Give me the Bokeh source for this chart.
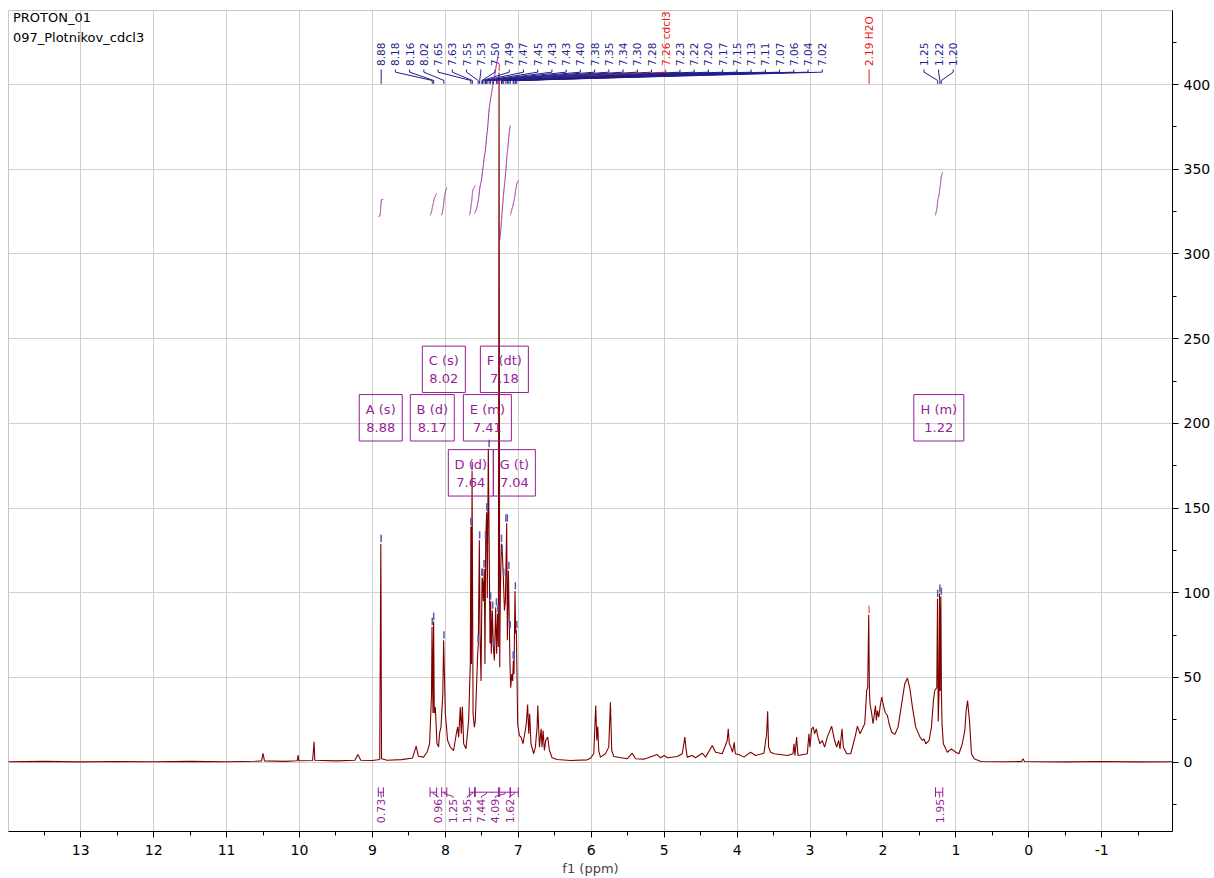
import numpy as np
from bokeh.plotting import figure
from bokeh.models import Range1d, SingleIntervalTicker, CustomJSTickFormatter
from bokeh.core.properties import value
from bokeh.embed import file_html
from bokeh.resources import INLINE

# ---------------- data ----------------
title_lines = ["PROTON_01", "097_Plotnikov_cdcl3"]

shift_ppm = [
    14.00, 13.50, 13.00, 12.50, 12.00, 11.50, 11.00, 10.60, 10.52, 10.50, 10.48, 10.20,
    10.03, 10.02, 10.01, 9.82, 9.80, 9.79, 9.50, 9.24, 9.20, 9.16, 9.00, 8.90, 8.885,
    8.875, 8.80, 8.60, 8.45, 8.40, 8.37, 8.30, 8.25, 8.216, 8.190, 8.183, 8.170, 8.161,
    8.152, 8.138, 8.115, 8.093, 8.080, 8.060, 8.035, 8.024, 8.000, 7.969, 7.932, 7.887,
    7.850, 7.832, 7.818, 7.795, 7.781, 7.767, 7.749, 7.717, 7.681, 7.658, 7.650, 7.642,
    7.634, 7.620, 7.603, 7.589, 7.557, 7.548, 7.534, 7.525, 7.511, 7.497, 7.489, 7.480,
    7.466, 7.457, 7.447, 7.434, 7.425, 7.411, 7.397, 7.388, 7.379, 7.370, 7.356, 7.342,
    7.328, 7.310, 7.297, 7.283, 7.273, 7.264, 7.255, 7.246, 7.232, 7.218, 7.205, 7.190,
    7.177, 7.159, 7.150, 7.136, 7.122, 7.113, 7.104, 7.090, 7.077, 7.068, 7.059, 7.045,
    7.036, 7.027, 7.018, 7.009, 6.985, 6.962, 6.935, 6.912, 6.890, 6.872, 6.857, 6.844,
    6.826, 6.789, 6.766, 6.742, 6.733, 6.710, 6.687, 6.674, 6.660, 6.642, 6.624, 6.597,
    6.573, 6.537, 6.468, 6.285, 6.056, 6.010, 5.965, 5.938, 5.924, 5.910, 5.897, 5.874,
    5.805, 5.760, 5.737, 5.719, 5.691, 5.507, 5.438, 5.393, 5.279, 5.095, 5.050, 5.000,
    4.958, 4.820, 4.752, 4.716, 4.703, 4.684, 4.615, 4.570, 4.478, 4.432, 4.340, 4.295,
    4.203, 4.135, 4.121, 4.107, 4.085, 4.062, 4.039, 4.025, 3.975, 3.907, 3.815, 3.746,
    3.632, 3.595, 3.581, 3.568, 3.540, 3.490, 3.310, 3.234, 3.220, 3.207, 3.184, 3.165,
    3.037, 3.015, 3.001, 2.978, 2.955, 2.937, 2.914, 2.891, 2.864, 2.832, 2.800, 2.763,
    2.704, 2.663, 2.635, 2.607, 2.589, 2.562, 2.543, 2.497, 2.442, 2.383, 2.350, 2.314,
    2.282, 2.250, 2.223, 2.209, 2.195, 2.186, 2.177, 2.154, 2.136, 2.117, 2.103, 2.090,
    2.076, 2.058, 2.040, 2.017, 1.998, 1.971, 1.939, 1.916, 1.880, 1.838, 1.793, 1.747,
    1.701, 1.665, 1.633, 1.596, 1.551, 1.492, 1.459, 1.436, 1.413, 1.368, 1.335, 1.308,
    1.290, 1.262, 1.252, 1.242, 1.232, 1.224, 1.216, 1.206, 1.198, 1.190, 1.172, 1.117,
    1.062, 1.003, 0.958, 0.912, 0.878, 0.860, 0.840, 0.826, 0.814, 0.786, 0.750, 0.660,
    0.300, 0.100, 0.080, 0.060, -0.500, -1.000, -1.500, -1.970,
]
intensity = [
    0.3, 0.5, 0.2, 0.4, 0.3, 0.5, 0.3, 0.6, 0.8, 5.2, 0.8, 0.5,
    0.9, 4.2, 0.9, 1.0, 12.0, 1.2, 0.8, 1.2, 4.6, 1.2, 1.0, 1.6, 129.0,
    2.0, 1.2, 1.5, 2.5, 9.5, 3.5, 3.0, 6.0, 11.0, 40.0, 80.0, 29.0, 83.0,
    29.0, 32.5, 11.0, 9.0, 17.0, 20.7, 40.0, 72.0, 28.6, 12.8, 8.9, 6.9,
    16.8, 20.7, 14.8, 32.5, 16.8, 32.9, 10.9, 7.9, 24.6, 58.0, 139.0, 58.0,
    172.0, 28.6, 20.7, 24.6, 64.0, 70.0, 131.0, 76.0, 48.0, 109.0, 107.0, 95.0,
    114.0, 58.0, 131.0, 147.6, 97.0, 185.0, 117.0, 70.0, 95.0, 64.0, 89.6, 68.0,
    60.0, 91.5, 64.0, 87.6, 68.0, 407.0, 56.0, 101.0, 129.0, 123.0, 109.0, 89.6,
    95.0, 141.0, 72.0, 113.0, 78.0, 56.0, 44.0, 52.0, 48.0, 60.0, 52.0, 101.0,
    76.0, 78.0, 52.0, 22.7, 15.7, 14.8, 10.9, 16.8, 22.7, 34.0, 16.8, 28.6,
    10.9, 5.0, 8.9, 20.7, 33.5, 8.9, 19.7, 8.9, 18.7, 6.9, 12.8, 14.8,
    6.9, 2.6, 1.6, 1.0, 1.4, 2.4, 5.0, 33.5, 12.8, 21.0, 6.9, 3.0,
    5.0, 8.9, 35.4, 6.9, 3.4, 2.0, 5.3, 2.0, 1.8, 4.5, 2.6, 4.0,
    2.6, 3.4, 5.0, 14.8, 8.9, 3.0, 4.0, 2.6, 5.3, 3.0, 9.9, 5.9,
    5.0, 12.8, 19.7, 10.9, 8.9, 5.9, 11.8, 5.0, 4.5, 3.0, 5.9, 4.0,
    5.3, 16.8, 30.0, 8.9, 5.9, 5.0, 4.0, 5.0, 10.9, 4.0, 14.8, 4.0,
    5.0, 16.8, 8.9, 19.7, 20.7, 16.8, 19.7, 14.8, 10.9, 12.8, 8.9, 14.8,
    21.3, 12.8, 8.9, 12.8, 7.9, 19.7, 8.9, 5.0, 5.0, 14.8, 21.3, 16.8,
    19.7, 22.7, 42.3, 44.0, 87.0, 42.3, 34.5, 28.6, 22.7, 28.6, 33.5, 24.6,
    30.5, 26.6, 32.5, 38.4, 34.5, 29.5, 27.6, 22.7, 17.7, 16.4, 20.7, 33.5,
    46.3, 49.6, 44.0, 32.5, 20.7, 14.8, 12.8, 13.8, 10.9, 12.8, 20.7, 36.4,
    42.3, 44.0, 96.5, 24.0, 40.0, 99.6, 42.0, 97.8, 40.0, 22.7, 10.9, 5.9,
    7.9, 5.9, 5.0, 10.9, 18.7, 30.0, 36.4, 30.0, 24.6, 5.0, 2.0, 0.4,
    0.3, 0.4, 2.0, 0.4, 0.2, 0.4, 0.2, 0.3,
]

peak_shifts = [8.88, 8.18, 8.16, 8.02, 7.65, 7.63, 7.55, 7.53, 7.50, 7.49, 7.47, 7.45,
               7.43, 7.43, 7.40, 7.38, 7.35, 7.34, 7.30, 7.28, 7.26, 7.23, 7.22, 7.20,
               7.17, 7.15, 7.13, 7.11, 7.07, 7.06, 7.04, 7.02, 2.19, 1.25, 1.22, 1.20]
peak_notes = [""] * 20 + ["cdcl3"] + [""] * 11 + ["H2O", "", "", ""]

multiplet_letters = ["A", "B", "C", "D", "E", "F", "G", "H"]
multiplet_types = ["s", "d", "s", "d", "m", "dt", "t", "m"]
multiplet_shifts = [8.88, 8.17, 8.02, 7.64, 7.41, 7.18, 7.04, 1.22]

integral_from = [8.92, 8.21, 8.05, 7.67, 7.60, 7.255, 7.11, 1.28]
integral_to = [8.85, 8.12, 7.98, 7.59, 7.272, 7.11, 7.00, 1.18]
integral_values = [0.73, 0.96, 1.25, 1.95, 7.44, 4.09, 1.62, 1.95]

# ---------------- layout / style ----------------
FONT = value("DejaVu Sans")
SPEC_C = "#800000"
NAVY = "#1f1f8c"
RED = "#f01515"
PURPLE = "#961e96"
GRID_C = "#cfcfcf"

# label fan layout: (first index, last index+1, first label ppm, step)
label_groups = [(0, 32, 8.88, 0.1951), (32, 33, 2.19, 0.0), (33, 36, 1.437, 0.2)]
# multiplet boxes: centre ppm, centre y, width (px)
box_x = [8.886, 8.179, 8.021, 7.651, 7.424, 7.191, 7.054, 1.234]
box_y = [203.3, 203.3, 231.9, 170.8, 203.3, 231.9, 170.8, 203.3]
box_w = [43, 44, 43, 45, 48, 48, 42, 50]
BOX_H = 27.4
# integral curves: start / end height
int_y0 = [322.2, 322.8, 322.8, 322.8, 323.9, 308.0, 322.8, 322.8]
int_y1 = [332.3, 335.7, 339.3, 340.4, 419.0, 375.8, 343.4, 348.1]
int_text_x = [8.879, 8.101, 7.895, 7.699, 7.507, 7.315, 7.119, 1.221]

p = figure(frame_width=1164, frame_height=821,
           x_range=Range1d(13.99, -1.97), y_range=Range1d(-40.9, 443.7),
           y_axis_location="right", output_backend="svg", toolbar_location=None,
           min_border_left=8, min_border_top=10, min_border_right=0, min_border_bottom=0,
           background_fill_color="white", border_fill_color="white")
p.outline_line_color = "#c8c8c8"

p.xaxis.ticker = SingleIntervalTicker(interval=1, num_minor_ticks=2)
p.yaxis.ticker = SingleIntervalTicker(interval=50, num_minor_ticks=2)
p.xaxis.formatter = CustomJSTickFormatter(code="return String(Math.round(tick));")
p.xgrid.ticker = SingleIntervalTicker(interval=1)
p.ygrid.ticker = SingleIntervalTicker(interval=50)
for g in (p.xgrid, p.ygrid):
    g.grid_line_color = GRID_C
    g.grid_line_width = 1

for ax in (p.xaxis, p.yaxis):
    ax.axis_line_color = "black"
    ax.major_tick_line_color = "black"
    ax.minor_tick_line_color = "black"
    ax.major_tick_in = 0
    ax.major_tick_out = 6
    ax.minor_tick_in = 0
    ax.minor_tick_out = 4
    ax.major_label_text_font = "DejaVu Sans"
    ax.major_label_text_font_size = "14px"
    ax.major_label_text_color = "black"
p.xaxis.major_label_standoff = 7
p.yaxis.major_label_standoff = 5
p.xaxis.axis_label = "f1 (ppm)"
p.xaxis.axis_label_text_font = "DejaVu Sans"
p.xaxis.axis_label_text_font_style = "normal"
p.xaxis.axis_label_text_font_size = "13px"
p.xaxis.axis_label_standoff = 3

x = np.array(shift_ppm, dtype=float)
yv = np.array(intensity, dtype=float)

# spectrum
p.line(x, yv, line_color=SPEC_C, line_width=1.1)

# titles
p.text(x=[13.93, 13.93], y=[439.7, 427.9], text=title_lines, text_font=FONT,
       text_font_size=value("13px"), text_color="black",
       text_align="left", text_baseline="middle")

# peak labels, connectors and markers
ps = np.array(peak_shifts)
label_x = np.zeros(len(ps))
for i0, i1, start, step in label_groups:
    for k, i in enumerate(range(i0, i1)):
        label_x[i] = start - k * step
texts = [f"{s:.2f}" + (f" {n}" if n else "") for s, n in zip(peak_shifts, peak_notes)]
colors = [RED if n else NAVY for n in peak_notes]
p.text(x=list(label_x), y=[411.0] * len(ps), text=texts, angle=np.pi / 2,
       text_font=FONT, text_font_size=value("10.5px"), text_color=colors,
       text_align="left", text_baseline="middle")
xs, ys = [], []
for lx, s in zip(label_x, ps):
    xs.append([lx, lx, s, s])
    ys.append([408.9, 407.3, 402.4, 400.4])
p.multi_line(xs, ys, line_color=colors, line_width=1)

mk_h = []
for s in ps:
    m = np.abs(x - s) <= 0.012
    mk_h.append(yv[m].max() if m.any() else float(np.interp(s, x[::-1], yv[::-1])))
mk_h = np.array(mk_h)
mk_col = ["#ff6a6a" if n else "#5a5ab0" for n in peak_notes]
p.segment(x0=ps, y0=mk_h + 1.0, x1=ps, y1=mk_h + 5.3, line_color=mk_col, line_width=1.5)

# integrals
xa, ya = x[::-1], yv[::-1]
for a, b, y0, y1 in zip(integral_from, integral_to, int_y0, int_y1):
    grid = np.linspace(a, b, 160)
    vals = np.interp(grid, xa, ya)
    cum = np.cumsum(vals)
    frac = (cum - cum[0]) / (cum[-1] - cum[0])
    p.line(grid, y0 + (y1 - y0) * frac, line_color=PURPLE, line_width=1)

ia = np.array(integral_from)
ib = np.array(integral_to)
ic = (ia + ib) / 2
p.segment(x0=ia, y0=[-17.7] * len(ia), x1=ib, y1=[-17.7] * len(ia), line_color=PURPLE)
p.segment(x0=ia, y0=[-14.8] * len(ia), x1=ia, y1=[-20.5] * len(ia), line_color=PURPLE)
p.segment(x0=ib, y0=[-14.8] * len(ia), x1=ib, y1=[-20.5] * len(ia), line_color=PURPLE)
cx = [[c, c, t, t] for c, t in zip(ic, int_text_x)]
cy = [[-17.7, -18.6, -20.2, -21.0] for _ in ic]
p.multi_line(cx, cy, line_color=PURPLE, line_width=1)
p.text(x=int_text_x, y=[-21.6] * len(ic), text=[f"{v:.2f}" for v in integral_values],
       angle=np.pi / 2, text_font=FONT, text_font_size=value("11px"),
       text_color=PURPLE, text_align="right", text_baseline="middle")

# multiplet boxes
p.rect(x=box_x, y=box_y, width=box_w, height=BOX_H, width_units="screen",
       fill_alpha=0, line_color=PURPLE, line_width=1)
line1 = [f"{l} ({t})" for l, t in zip(multiplet_letters, multiplet_types)]
line2 = [f"{s:.2f}" for s in multiplet_shifts]
p.text(x=box_x, y=[b + 5.0 for b in box_y], text=line1, text_font=FONT,
       text_font_size=value("13px"), text_color=PURPLE,
       text_align="center", text_baseline="middle")
p.text(x=box_x, y=[b - 5.5 for b in box_y], text=line2, text_font=FONT,
       text_font_size=value("13px"), text_color=PURPLE,
       text_align="center", text_baseline="middle")

open("out.html", "w").write(file_html(p, INLINE))
